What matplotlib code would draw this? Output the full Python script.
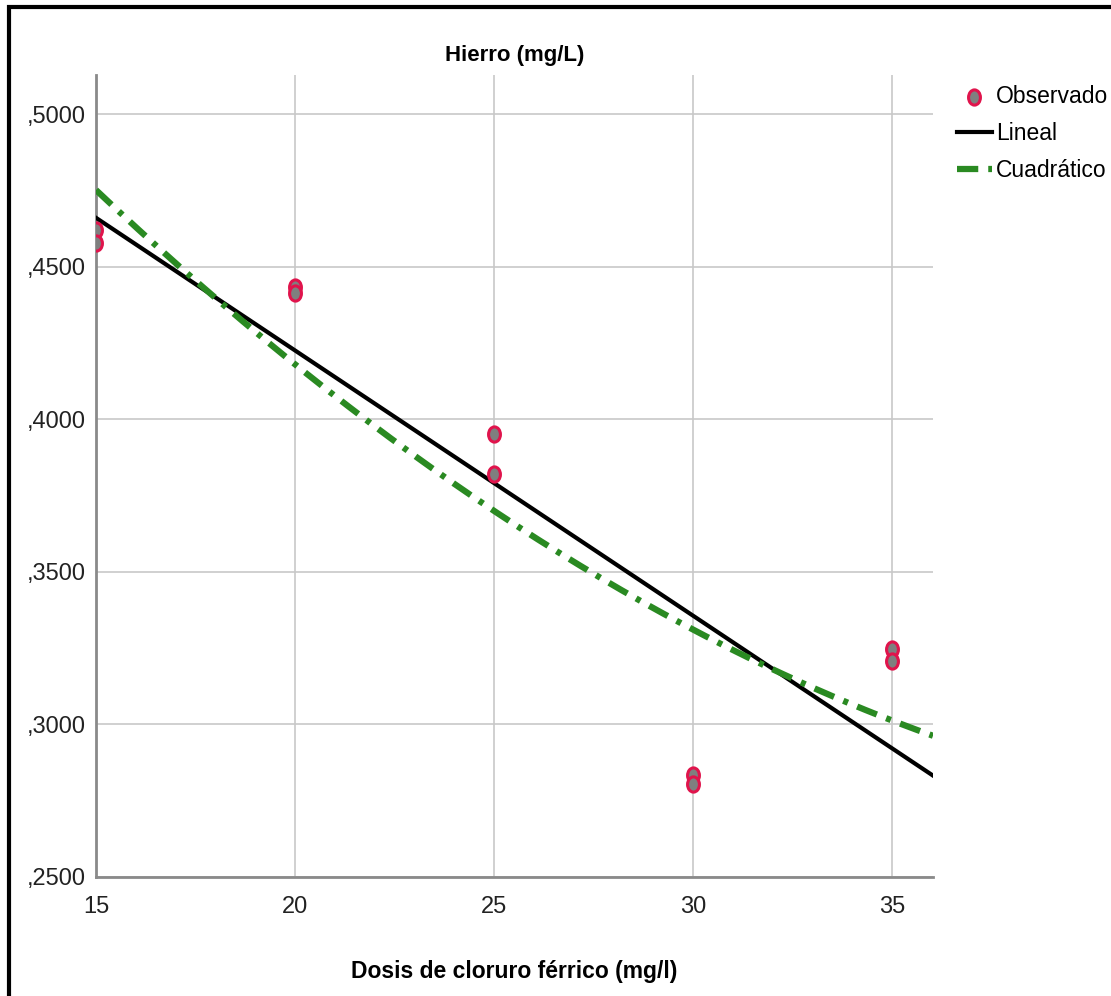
import numpy as np
import matplotlib
matplotlib.use("Agg")
import matplotlib.pyplot as plt
from matplotlib.path import Path
from matplotlib.patches import Rectangle
from matplotlib.ticker import FuncFormatter

plt.rcParams['font.family'] = ['Liberation Sans', 'DejaVu Sans']

# observed values (two replicates per dose)
dosis = [15, 15, 20, 20, 25, 25, 30, 30, 35, 35]
hierro = [0.4620, 0.4577, 0.4433, 0.4413, 0.3952, 0.3820, 0.2834, 0.2805, 0.3247, 0.3208]

x_ticks = [15, 20, 25, 30, 35]
y_ticks = [0.25, 0.30, 0.35, 0.40, 0.45, 0.50]

x = np.array(dosis)
y = np.array(hierro)

# fitted curves
lin = np.polyfit(x, y, 1)
quad = np.polyfit(x, y, 2)
xs = np.linspace(15, 36.03, 200)

fig = plt.figure(figsize=(11.11, 9.96), dpi=100)
ax = fig.add_axes([96 / 1111, 1 - 877 / 996, (933 - 96) / 1111, (877 - 75) / 996])

ax.grid(True, color="#c8c8c8", linewidth=1.2)
ax.set_axisbelow(True)

ellipse = Path.unit_circle().transformed(matplotlib.transforms.Affine2D().scale(0.78, 1.0))

ax.plot(xs, np.polyval(lin, xs), color="black", lw=3, label="Lineal", zorder=3)
ax.plot(xs, np.polyval(quad, xs), color="#2a8a22", lw=4.5, dashes=(3.4, 1.6, 0.8, 1.6),
        label="Cuadrático", zorder=3)
ax.scatter(x, y, s=120, marker=ellipse, facecolor="#7f7f7f", edgecolor="#e0144c",
           linewidth=2.2, label="Observado", zorder=4)

ax.set_xlim(15, 36.03)
ax.set_ylim(0.25, 0.5128)
ax.set_xticks(x_ticks)
ax.set_yticks(y_ticks)
ax.yaxis.set_major_formatter(FuncFormatter(lambda v, p: ("%.4f" % v).replace("0.", ",")))
ax.tick_params(axis="y", length=0, labelsize=17, pad=7, colors="#222222")
ax.tick_params(axis="x", length=0, labelsize=17, pad=14, colors="#222222")

for s in ["top", "right"]:
    ax.spines[s].set_visible(False)
for s in ["left", "bottom"]:
    ax.spines[s].set_color("#8a8a8a")
    ax.spines[s].set_linewidth(2)

ax.set_title("Hierro (mg/L)", fontsize=16, fontweight="bold", pad=10)
ax.set_xlabel("Dosis de cloruro férrico (mg/l)", fontsize=16.5, fontweight="bold", labelpad=30)

handles, labels = ax.get_legend_handles_labels()
order = [2, 0, 1]
leg = fig.legend([handles[i] for i in order], [labels[i] for i in order],
                 loc="upper left", bbox_to_anchor=(948 / 1111, 1 - 76 / 996),
                 frameon=False, fontsize=16.5, handlelength=1.5, handletextpad=0.2,
                 labelspacing=0.6, borderaxespad=0)

# outer frame
fig.patches.append(Rectangle((9 / 1111, -0.1), 1.2, 1 - 7 / 996 + 0.1, transform=fig.transFigure,
                             fill=False, edgecolor="black", linewidth=3))

fig.savefig("out.png", dpi=100)
